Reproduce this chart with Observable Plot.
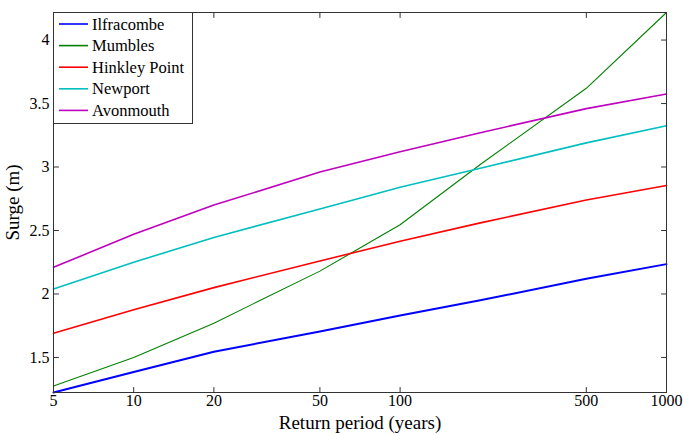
<!DOCTYPE html>
<html>
<head>
<meta charset="utf-8">
<script src="https://cdn.jsdelivr.net/npm/d3@7"></script>
<script src="https://cdn.jsdelivr.net/npm/@observablehq/plot@0.6"></script>
<style>
  html, body { margin: 0; padding: 0; background: #fff; }
  #chart { position: relative; width: 683px; height: 435px; }
</style>
</head>
<body>
<div id="chart"></div>
<script>
const returnPeriods = [5, 10, 20, 50, 100, 200, 500, 1000];
const ilfracombe   = [1.224, 1.385, 1.545, 1.705, 1.830, 1.950, 2.120, 2.235];
const mumbles      = [1.275, 1.500, 1.770, 2.180, 2.545, 3.020, 3.620, 4.217];
const hinkleyPoint = [1.690, 1.875, 2.050, 2.260, 2.415, 2.560, 2.740, 2.855];
const newport      = [2.040, 2.250, 2.445, 2.670, 2.840, 2.990, 3.190, 3.325];
const avonmouth    = [2.210, 2.470, 2.700, 2.960, 3.120, 3.270, 3.460, 3.575];

const seriesNames = ["Ilfracombe", "Mumbles", "Hinkley Point", "Newport", "Avonmouth"];
const seriesValues = [ilfracombe, mumbles, hinkleyPoint, newport, avonmouth];
const seriesColors = ["#0000ff", "#008000", "#ff0000", "#00bfbf", "#bf00bf"];
const seriesWidths = [2, 1.1, 1.6, 1.6, 1.6];

const xTicks = [5, 10, 20, 50, 100, 500, 1000];
const yTicks = [1.5, 2, 2.5, 3, 3.5, 4];
const yDomain = [1.224, 4.217];
const xDomain = [5, 1000];

const font = "'Liberation Serif', 'Times New Roman', serif";
const axisColor = "#333";

const lineMarks = seriesValues.map((vals, i) =>
  Plot.line(returnPeriods.map((rp, j) => ({rp, v: vals[j]})), {
    x: "rp", y: "v", stroke: seriesColors[i], strokeWidth: seriesWidths[i], curve: "linear"
  })
);

// a plain line segment shape for inward tick marks
const tickShape = {draw(context, l) { context.moveTo(0, 0); context.lineTo(0, -l); }};
const tickOpts = {length: 5, anchor: "start", shape: tickShape, stroke: axisColor, strokeWidth: 1};
const textOpts = {fontSize: 16, fontFamily: font, fill: "#000"};

const plot = Plot.plot({
  width: 683,
  height: 435,
  marginLeft: 53,
  marginRight: 17,
  marginTop: 12,
  marginBottom: 43,
  style: {fontFamily: font, fontSize: "16px", color: "#000", background: "#fff", overflow: "visible"},
  x: {type: "log", domain: xDomain},
  y: {domain: yDomain},
  axis: null,
  marks: [
    ...lineMarks,
    Plot.frame({stroke: axisColor, strokeWidth: 1}),
    // inward ticks on all four sides
    Plot.vector(xTicks, {x: d => d, frameAnchor: "bottom", rotate: 0, ...tickOpts}),
    Plot.vector(xTicks, {x: d => d, frameAnchor: "top", rotate: 180, ...tickOpts}),
    Plot.vector(yTicks, {y: d => d, frameAnchor: "left", rotate: 90, ...tickOpts}),
    Plot.vector(yTicks, {y: d => d, frameAnchor: "right", rotate: -90, ...tickOpts}),
    // tick labels
    Plot.text(xTicks, {x: d => d, frameAnchor: "bottom", dy: 13, text: d => String(d), ...textOpts}),
    Plot.text(yTicks, {y: d => d, frameAnchor: "left", dx: -4, textAnchor: "end", text: d => String(d), ...textOpts}),
    // axis titles
    Plot.axisX([], {anchor: "bottom", tickSize: 0, label: "Return period (years)", labelAnchor: "center",
      labelArrow: "none", labelOffset: 36, fontSize: 19, fontFamily: font, fill: "#000"}),
    Plot.axisY([], {anchor: "left", tickSize: 0, label: "Surge (m)", labelAnchor: "center",
      labelArrow: "none", labelOffset: 48, fontSize: 19, fontFamily: font, fill: "#000"})
  ]
});

document.getElementById("chart").appendChild(plot);

// Legend box drawn inside the plot area (top-left)
const svg = d3.select(plot);
const lg = svg.append("g").attr("transform", "translate(53,12)");
const rowH = 21.6;
lg.append("rect")
  .attr("x", 0.5).attr("y", 0.5)
  .attr("width", 139).attr("height", 111)
  .attr("fill", "#fff").attr("stroke", axisColor).attr("stroke-width", 1);
seriesNames.forEach((name, i) => {
  const cy = 12 + i * rowH;
  lg.append("line")
    .attr("x1", 6).attr("x2", 35).attr("y1", cy).attr("y2", cy)
    .attr("stroke", seriesColors[i]).attr("stroke-width", 1.6);
  lg.append("text")
    .attr("x", 39).attr("y", cy).attr("dy", "0.34em")
    .attr("text-anchor", "start")
    .attr("font-family", font).attr("font-size", 16.5).attr("fill", "#000")
    .text(name);
});
</script>
</body>
</html>
